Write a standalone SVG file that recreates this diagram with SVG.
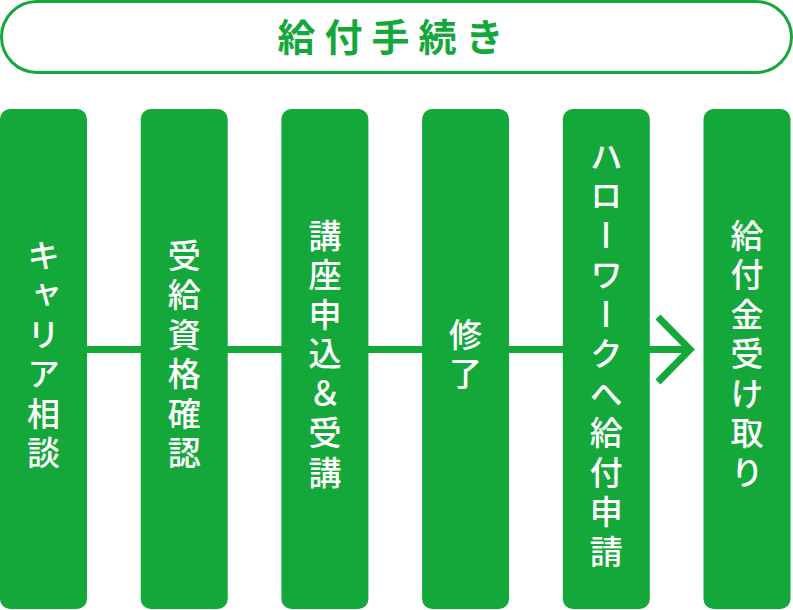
<svg xmlns="http://www.w3.org/2000/svg" width="793" height="610" viewBox="0 0 793 610">
<style>
.step{fill:#14a83b}
.lbl{fill:#ffffff;font-family:"Noto Sans CJK JP","Noto Sans CJK SC",sans-serif;font-size:33px;font-weight:500;letter-spacing:6.5px;writing-mode:vertical-rl;text-anchor:middle}
.conn{stroke:#14a83b;stroke-width:7;fill:none}
</style>
<rect width="793" height="610" fill="#ffffff"/>
<g id="header">
<rect x="1.5" y="1.5" width="790" height="71" rx="35.5" fill="#ffffff" stroke="#14a83b" stroke-width="3"/>
<text x="395" y="51" fill="#14a83b" font-family="'Noto Sans CJK JP','Noto Sans CJK SC',sans-serif" font-size="38" font-weight="600" letter-spacing="9" text-anchor="middle">給付手続き</text>
</g>
<g id="connectors">
<line class="conn" x1="87" y1="349.5" x2="690" y2="349.5"/>
<polyline class="conn" points="658,317 690,349.5 658,382"/>
</g>
<g id="step1"><rect class="step" x="0" y="109" width="87" height="500" rx="10"/><text class="lbl" x="43.5" y="357">キャリア相談</text></g>
<g id="step2"><rect class="step" x="140.7" y="109" width="87" height="500" rx="10"/><text class="lbl" x="184.2" y="357">受給資格確認</text></g>
<g id="step3"><rect class="step" x="281.4" y="109" width="87" height="500" rx="10"/><text class="lbl" x="324.9" y="357">講座申込＆受講</text></g>
<g id="step4"><rect class="step" x="422.1" y="109" width="87" height="500" rx="10"/><text class="lbl" x="465.6" y="357">修了</text></g>
<g id="step5"><rect class="step" x="562.8" y="109" width="87" height="500" rx="10"/><text class="lbl" x="606.3" y="357">ハローワークへ給付申請</text></g>
<g id="step6"><rect class="step" x="703.5" y="109" width="87" height="500" rx="10"/><text class="lbl" x="747" y="357">給付金受け取り</text></g>
</svg>
